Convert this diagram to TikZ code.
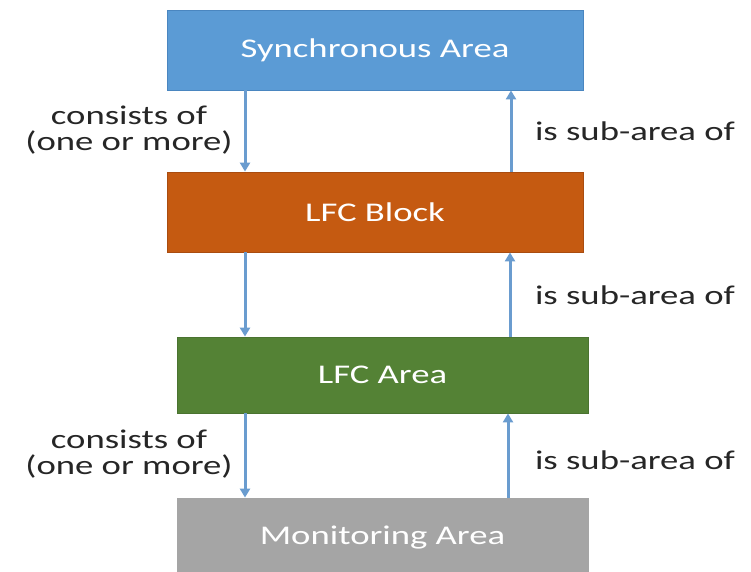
\documentclass[tikz,border=0pt]{standalone}
\usepackage{fontspec}
\setmainfont{Carlito}[FakeStretch=1.36]
\usetikzlibrary{arrows.meta}
\definecolor{syncblue}{HTML}{5B9BD5}
\definecolor{syncedge}{HTML}{4A86C0}
\definecolor{blockor}{HTML}{C55A11}
\definecolor{blockedge}{HTML}{A94C10}
\definecolor{areagr}{HTML}{548235}
\definecolor{areaedge}{HTML}{4A7330}
\definecolor{mongray}{HTML}{A5A5A5}
\definecolor{arrblue}{HTML}{6A9CCF}
\definecolor{labtxt}{HTML}{262626}
\tikzset{
  box/.style={draw, line width=0.8pt, rectangle, minimum width=416pt, minimum height=80pt,
    inner sep=0pt, text=white, font=\fontsize{27}{30}\selectfont},
  arr/.style={draw=arrblue, line width=3pt, -{Triangle[length=9pt,width=10pt]}},
  lab/.style={text=labtxt, font=\fontsize{27}{26}\selectfont, align=center, inner sep=0pt}
}
\begin{document}
\begin{tikzpicture}[x=1pt,y=-1pt]
\useasboundingbox (0,0) rectangle (751,571);
\node[box, fill=syncblue, draw=syncedge] (sync) at (375,50) {\raisebox{-2pt}{Synchronous Area}};
\node[box, fill=blockor, draw=blockedge] (block) at (375,212) {LFC Block};
\node[box, fill=areagr, draw=areaedge, minimum width=411pt, minimum height=76pt] (area) at (382.5,375) {LFC Area};
\node[box, fill=mongray, draw=mongray, minimum width=411pt, minimum height=80pt] (mon) at (382.5,538) {Monitoring Area};
\coordinate (L) at (245,0);
\coordinate (R1) at (511,0);
\coordinate (R2) at (510,0);
\coordinate (R3) at (508,0);
\draw[arr] (L |- sync.south) -- (L |- block.north);
\draw[arr] (R1 |- block.north) -- (R1 |- sync.south);
\draw[arr] (L |- block.south) -- (L |- area.north);
\draw[arr] (R2 |- area.north) -- (R2 |- block.south);
\draw[arr] (L |- area.south) -- (L |- mon.north);
\draw[arr] (R3 |- mon.north) -- (R3 |- area.south);
\node[lab] (c1) at (129,130) {consists of\\(one or more)};
\node[lab] (c2) at (129,454) {consists of\\(one or more)};
\node[lab] (s1) at (635,131) {is sub-area of};
\node[lab] (s2) at (635,295) {is sub-area of};
\node[lab] (s3) at (635,460) {is sub-area of};
\end{tikzpicture}
\end{document}
